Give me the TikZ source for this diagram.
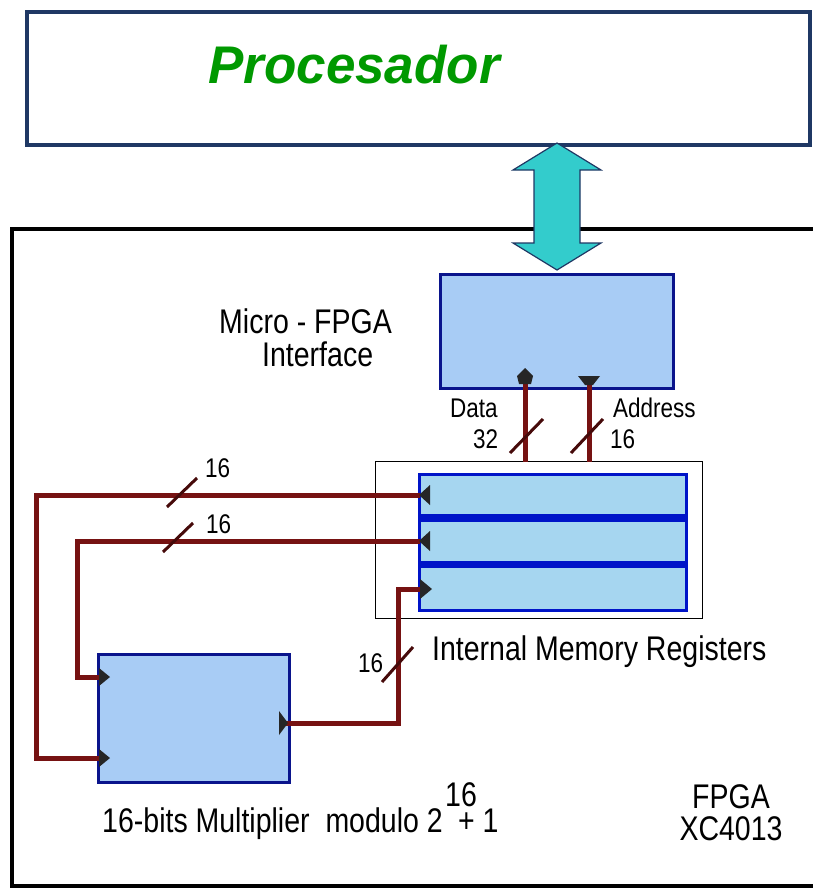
\documentclass[tikz,border=0pt]{standalone}
\usepackage{fontspec}
\setmainfont{Liberation Sans}
\usetikzlibrary{calc}
\definecolor{procnavy}{RGB}{31,56,100}
\definecolor{procgreen}{RGB}{0,153,0}
\definecolor{arrowteal}{RGB}{51,204,204}
\definecolor{ifacefill}{RGB}{168,204,245}
\definecolor{regfill}{RGB}{166,214,240}
\definecolor{boxblue}{RGB}{10,20,140}
\definecolor{regblue}{RGB}{0,20,200}
\definecolor{wirered}{RGB}{118,18,18}
\definecolor{slashred}{RGB}{70,10,10}
\tikzset{
  procbox/.style={draw=procnavy, line width=4pt, fill=white, inner sep=0, anchor=north west},
  bluebox/.style={draw=boxblue, line width=3pt, fill=ifacefill, inner sep=0, anchor=north west},
  regbox/.style={draw=regblue, line width=3pt, fill=regfill, inner sep=0, anchor=north west},
  wire/.style={draw=wirered, line width=5pt},
  slash/.style={draw=slashred, line width=3pt},
  port/.style={fill=black!85},
  biglbl/.style={font=\fontsize{28.5}{30}\selectfont, inner sep=0},
  smalllbl/.style={font=\fontsize{22.5}{25}\selectfont, inner sep=0}
}
\newcommand{\vstr}[1]{\scalebox{1}[1.2]{#1}}
\begin{document}
\begin{tikzpicture}[x=1pt,y=1pt]
\useasboundingbox (0,0) rectangle (812,-889);
% FPGA outer frame
\draw[line width=4pt, black] (830,-229) -- (12,-229) -- (12,-886) -- (830,-886);
% Processor
\node[procbox, minimum width=783, minimum height=133] (proc) at (25,-10) {};
\node[anchor=base west, inner sep=0, text=procgreen, font=\fontsize{53}{60}\selectfont\bfseries\itshape] (proctext) at (208,-83) {Procesador};
% double arrow
\node[inner sep=0, minimum width=88, minimum height=127] (bus) at (557,-206.5) {};
\draw[draw=procnavy, line width=1.2pt, fill=arrowteal]
  (557,-143) -- (601,-170) -- (580,-170) -- (580,-243) -- (601,-243) -- (557,-270)
  -- (513,-243) -- (534,-243) -- (534,-170) -- (513,-170) -- cycle;
% Interface box
\node[bluebox, minimum width=233, minimum height=114] (iface) at (439,-273) {};
\node[biglbl, anchor=base west] (ifacelbl1) at (219,-333) {\vstr{Micro - FPGA}};
\node[biglbl, anchor=base west] (ifacelbl2) at (262,-366) {\vstr{Interface}};
% memory container
\node[draw=black, line width=1pt, inner sep=0, anchor=north west, minimum width=327, minimum height=157] (memframe) at (375,-461) {};
% registers
\node[regbox, minimum width=267, minimum height=136] (regs) at (418,-473) {};
\draw[draw=regblue, line width=8pt] (regs.west |- 0,-517.5) -- (regs.east |- 0,-517.5);
\draw[draw=regblue, line width=7pt] (regs.west |- 0,-564.5) -- (regs.east |- 0,-564.5);
\node[biglbl, anchor=base west] (memlbl) at (432,-660) {\vstr{Internal Memory Registers}};
% multiplier
\node[bluebox, minimum width=191, minimum height=128] (mult) at (97,-653) {};
\node[biglbl, anchor=base east] (multlbl) at (443,-832) {\vstr{16-bits Multiplier\ \ modulo 2}};
\node[biglbl, anchor=base west] (multplus) at (458,-832) {\vstr{+ 1}};
\node[biglbl, anchor=base west] (multsup) at (445,-806) {\vstr{16}};
\node[biglbl, anchor=base] (fpga1) at (731,-808) {\vstr{FPGA}};
\node[biglbl, anchor=base] (fpga2) at (731,-840) {\vstr{XC4013}};
% ports
\coordinate (d1) at (525,-383);
\coordinate (d2) at (525,-462);
\coordinate (a1) at (589,-383);
\coordinate (a2) at (589,-462);
\coordinate (r1) at (420,-495);
\coordinate (r2) at (420,-541);
\coordinate (r3) at (420,-589);
\coordinate (m1) at (99,-758);
\coordinate (m2) at (99,-677);
\coordinate (mo) at (286,-723);
\coordinate (c1) at (36,-495);
\coordinate (c2) at (77,-541);
\coordinate (c3) at (398,-723);
% wires
\draw[wire] (d2) -- (d1);
\draw[wire] (a2) -- (a1);
\draw[wire] (r1) -- (c1) |- (m1);
\draw[wire] (r2) -- (c2) |- (m2);
\draw[wire] (mo) -- (c3) |- (r3);
% port markers
\fill[port] (525,-368) -- (533,-376) -- (531,-384) -- (519,-384) -- (517,-376) -- cycle;
\fill[port] (578,-376) -- (600,-376) -- (593,-385) -- (585,-385) -- cycle;
\fill[port] (419,-495) -- (430,-485) -- (430,-505) -- cycle;
\fill[port] (419,-541) -- (430,-531) -- (430,-551) -- cycle;
\fill[port] (432,-589) -- (420,-579) -- (420,-599) -- cycle;
\fill[port] (110,-677) -- (99,-668) -- (99,-686) -- cycle;
\fill[port] (110,-758) -- (99,-749) -- (99,-767) -- cycle;
\fill[port] (288,-723) -- (279,-711) -- (279,-735) -- cycle;
% slashes
\draw[slash] (510,-453) -- (543,-419);
\draw[slash] (571,-453) -- (603,-419);
\draw[slash] (167,-507) -- (197,-478);
\draw[slash] (163,-552) -- (193,-523);
\draw[slash] (382,-682) -- (413,-647);
% width labels
\node[smalllbl, anchor=base west] (ldata) at (450,-417) {\vstr{Data}};
\node[smalllbl, anchor=base west] (l32) at (473,-448) {\vstr{32}};
\node[smalllbl, anchor=base west] (laddr) at (613,-417) {\vstr{Address}};
\node[smalllbl, anchor=base west] (l16a) at (610,-448) {\vstr{16}};
\node[smalllbl, anchor=base west] (l16b) at (205,-477) {\vstr{16}};
\node[smalllbl, anchor=base west] (l16c) at (206,-533) {\vstr{16}};
\node[smalllbl, anchor=base west] (l16d) at (358,-672) {\vstr{16}};
\end{tikzpicture}
\end{document}
